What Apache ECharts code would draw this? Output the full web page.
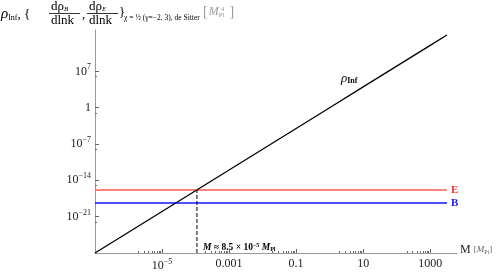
<!DOCTYPE html>
<html><head><meta charset="utf-8">
<script src="https://cdn.jsdelivr.net/npm/echarts@6/dist/echarts.min.js"></script>
<style>html,body{margin:0;padding:0;background:#fff}#c{width:498px;height:273px}</style>
</head><body><div id="c"></div>
<script>
// ---- data ----
const massM = [1e-7, 1e-6, 1e-5, 1e-4, 1e-3, 1e-2, 0.1, 1, 10, 100, 1000, 3162];
const rhoInf = [1e-28, 1e-24, 1e-20, 1e-16, 1e-12, 1e-8, 1e-4, 1, 1e4, 1e8, 1e12, 1e14];
const massEnds = [1e-7, 3162];
const rhoE = [1.4e-16, 1.4e-16];
const rhoB = [4.3e-19, 4.3e-19];
const mCross = 1.1e-4;
const xTickVals = [1e-5, 1e-3, 0.1, 10, 1000];
const xTickLabels = ['10^-5', '0.001', '0.1', '10', '1000'];
const xMinorVals = [2e-6,3e-6,4e-6,5e-6,6e-6,7e-6,8e-6,9e-6, 2e-4,3e-4,4e-4,5e-4,6e-4,7e-4,8e-4,9e-4,
  0.02,0.03,0.04,0.05,0.06,0.07,0.08,0.09, 2,3,4,5,6,7,8,9, 200,300,400,500,600,700,800,900];
const yTickVals = [1e7, 1, 1e-7, 1e-14, 1e-21];
const yTickLabels = ['10^7', '1', '10^-7', '10^-14', '10^-21'];
const yMinorVals = [1e6, 1e-1, 1e-8, 1e-15, 1e-22];
const xRange = [1e-7, 6300];
const yRange = [1e-28, 9.3e14];

function fmtPow(lbl) {
  if (lbl.indexOf('^') < 0) return '{n|' + lbl + '}';
  const p = lbl.split('^');
  return '{n|' + p[0] + '}{s|' + p[1].replace('-', '\u2212') + '}';
}
const xLabelMap = {}; xTickVals.forEach((v, i) => xLabelMap[v] = xTickLabels[i]);
const yLabelMap = {}; yTickVals.forEach((v, i) => yLabelMap[v] = yTickLabels[i]);
function near(map, v) {
  for (const k in map) { if (Math.abs(Math.log10(+k) - Math.log10(v)) < 1e-6) return map[k]; }
  return '';
}
const serif = '"Liberation Serif","DejaVu Serif",serif';
const richLbl = {
  n: { fontFamily: serif, fontSize: 12, color: '#222' },
  s: { fontFamily: serif, fontSize: 8, color: '#222', verticalAlign: 'bottom', padding: [0, 0, 8, 0] }
};
const axisGray = '#9a9a9a';
const tickCol = '#666';

const chart = echarts.init(document.getElementById('c'));
chart.setOption({
  animation: false,
  backgroundColor: '#fff',
  grid: { left: 95, right: 41, top: 30, bottom: 20, containLabel: false },
  xAxis: [{
    type: 'log', logBase: 10, min: xRange[0], max: xRange[1],
    axisLine: { lineStyle: { color: axisGray, width: 1 } },
    axisTick: { show: true, inside: true, length: 4, lineStyle: { color: tickCol }, customValues: xTickVals },
    axisLabel: { customValues: xTickVals, margin: 5, formatter: v => fmtPow(near(xLabelMap, v)), rich: richLbl },
    splitLine: { show: false },
    name: '{m|M }{b|[}{i|M}{p|Pl}{b|]}', nameLocation: 'end', nameGap: 3,
    nameTextStyle: { rich: {
      m: { fontFamily: serif, fontSize: 12, color: '#222' },
      b: { fontFamily: serif, fontSize: 9, color: '#666' },
      i: { fontFamily: serif, fontSize: 9, fontStyle: 'italic', color: '#666' },
      p: { fontFamily: serif, fontSize: 6, color: '#666', padding: [4, 0, 0, 0] }
    }, verticalAlign: 'bottom', padding: [0, 0, -3, 0] }
  }, {
    type: 'log', logBase: 10, min: xRange[0], max: xRange[1], position: 'bottom',
    axisLine: { show: false },
    axisTick: { show: true, inside: true, length: 2, lineStyle: { color: tickCol }, customValues: xMinorVals },
    axisLabel: { show: false }, splitLine: { show: false }
  }],
  yAxis: [{
    type: 'log', logBase: 10, min: yRange[0], max: yRange[1],
    axisLine: { lineStyle: { color: axisGray, width: 1 } },
    axisTick: { show: true, inside: true, length: 4, lineStyle: { color: tickCol }, customValues: yTickVals },
    axisLabel: { customValues: yTickVals, margin: 4, formatter: v => fmtPow(near(yLabelMap, v)), rich: richLbl },
    splitLine: { show: false }
  }, {
    type: 'log', logBase: 10, min: yRange[0], max: yRange[1], position: 'left',
    axisLine: { show: false },
    axisTick: { show: true, inside: true, length: 2, lineStyle: { color: tickCol }, customValues: yMinorVals },
    axisLabel: { show: false }, splitLine: { show: false }
  }],
  series: [
    { type: 'line', data: massM.map((m, i) => [m, rhoInf[i]]), showSymbol: false, symbol: 'none',
      lineStyle: { color: '#000', width: 1.3 }, z: 5 },
    { type: 'line', data: massEnds.map((m, i) => [m, rhoE[i]]), symbol: 'none',
      lineStyle: { color: '#ff5a5a', width: 1.5 },
      endLabel: { show: true, formatter: 'E', color: '#ff2a2a', fontFamily: serif, fontWeight: 'bold', fontSize: 11, distance: 4 } },
    { type: 'line', data: massEnds.map((m, i) => [m, rhoB[i]]), symbol: 'none',
      lineStyle: { color: '#1414ff', width: 1.5 },
      endLabel: { show: true, formatter: 'B', color: '#1414ff', fontFamily: serif, fontWeight: 'bold', fontSize: 11, distance: 4 } },
    { type: 'line', data: [[mCross, yRange[0]], [mCross, rhoE[0]]], symbol: 'none',
      lineStyle: { color: '#000', width: 1, type: [4, 2] }, z: 4 }
  ],
  graphic: [
    { type: 'text', left: 1, top: 7, style: { text: '{r|ρ}{s|Inf}{n|, {}', rich: {
        r: { fontFamily: serif, fontSize: 15, fontStyle: 'italic', fill: '#000' },
        s: { fontFamily: serif, fontSize: 8, fill: '#000', padding: [6, 0, 0, 0] },
        n: { fontFamily: serif, fontSize: 13, fill: '#000' } } } },
    { type: 'text', left: 51, top: 0, style: { text: '{d|dρ}{s|B}', rich: {
        d: { fontFamily: serif, fontSize: 13, fill: '#000' },
        s: { fontFamily: serif, fontSize: 7, fontStyle: 'italic', fill: '#000', padding: [5, 0, 0, 0] } } } },
    { type: 'line', shape: { x1: 49, y1: 13.5, x2: 80, y2: 13.5 }, style: { stroke: '#000', lineWidth: 0.8 } },
    { type: 'text', left: 51, top: 14, style: { text: 'dlnk', fontFamily: serif, fontSize: 13, fill: '#000' } },
    { type: 'text', left: 82, top: 8, style: { text: ',', fontFamily: serif, fontSize: 13, fill: '#000' } },
    { type: 'text', left: 89, top: 0, style: { text: '{d|dρ}{s|E}', rich: {
        d: { fontFamily: serif, fontSize: 13, fill: '#000' },
        s: { fontFamily: serif, fontSize: 7, fontStyle: 'italic', fill: '#000', padding: [5, 0, 0, 0] } } } },
    { type: 'line', shape: { x1: 87, y1: 13.5, x2: 118, y2: 13.5 }, style: { stroke: '#000', lineWidth: 0.8 } },
    { type: 'text', left: 89, top: 14, style: { text: 'dlnk', fontFamily: serif, fontSize: 13, fill: '#000' } },
    { type: 'text', left: 119, top: 6, style: { text: '}', fontFamily: serif, fontSize: 13, fill: '#000' } },
    { type: 'text', left: 124, top: 14, style: { text: 'χ = ½ (γ=−2, 3), de Sitter', fontFamily: serif, fontSize: 7.5, fill: '#000' } },
    { type: 'text', left: 203, top: 5, style: { text: '{b|[}{i|M}{p|Pl}{b|]}', rich: {
        b: { fontFamily: serif, fontSize: 14, fill: '#999' },
        i: { fontFamily: serif, fontSize: 12, fontStyle: 'italic', fill: '#999', padding: [0, 0, 0, 1] },
        p: { fontFamily: serif, fontSize: 7, fill: '#999', padding: [6, 5, 0, 0] } } } },
    { type: 'text', left: 221, top: 6, style: { text: '4', fontFamily: serif, fontSize: 7, fill: '#999' } },
    { type: 'text', left: 341, top: 72, style: { text: '{r|ρ}{s|Inf}', rich: {
        r: { fontFamily: serif, fontSize: 13, fontStyle: 'italic', fill: '#000' },
        s: { fontFamily: serif, fontSize: 8, fontWeight: 'bold', fill: '#000', padding: [5, 0, 0, 0] } } } },
    { type: 'text', left: 203, top: 242, style: { text: '{i|M} ≈ 8.5 × 10{s|−5} {i|M}{p|Pl}', rich: {
        i: { fontFamily: serif, fontSize: 9.5, fontStyle: 'italic', fontWeight: 'bold', fill: '#000' },
        s: { fontFamily: serif, fontSize: 6, fontWeight: 'bold', fill: '#000', padding: [0, 0, 5, 0] },
        p: { fontFamily: serif, fontSize: 6, fontWeight: 'bold', fill: '#000', padding: [4, 0, 0, 0] } },
        fontFamily: serif, fontSize: 9.5, fontWeight: 'bold', fill: '#000' } }
  ]
});
</script></body></html>
